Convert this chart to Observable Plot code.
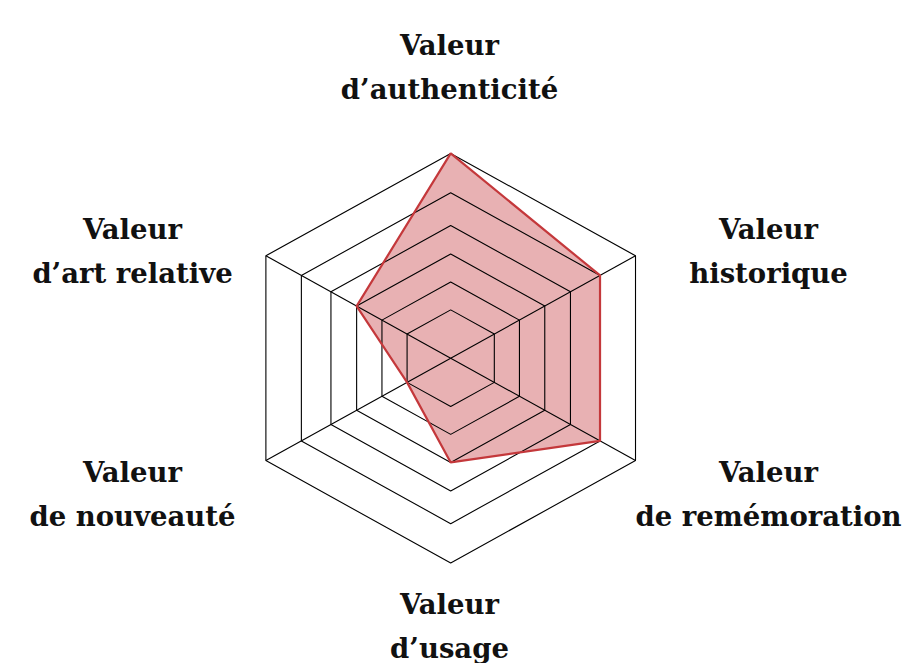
<!DOCTYPE html>
<html><head><meta charset="utf-8">
<script src="https://cdn.jsdelivr.net/npm/d3@7"></script>
<script src="https://cdn.jsdelivr.net/npm/@observablehq/plot@0.6"></script>
<style>body{margin:0;background:#fff}</style>
</head><body><div id="chart"></div>
<script>
// Axis labels (clockwise from the top)
const axisNames = [
  "Valeur\nd’authenticité",
  "Valeur\nhistorique",
  "Valeur\nde remémoration",
  "Valeur\nd’usage",
  "Valeur\nde nouveauté",
  "Valeur\nd’art relative"
];
// Grid rings (level index) and their radius as a fraction of the outer ring
const ringLevels = [1, 2, 3, 4, 5, 6];
const ringRadius = [0.236, 0.372, 0.509, 0.648, 0.808, 1.0];
// Score of each axis, expressed as a ring level
const scores = [6, 5, 5, 3, 1, 3];

const n = axisNames.length;
const angle = i => i * 2 * Math.PI / n;
const px = (r, i) => r * Math.sin(angle(i));
const py = (r, i) => r * Math.cos(angle(i));

const ringPts = ringLevels.flatMap((lv, k) =>
  axisNames.map((_, i) => ({ring: lv, x: px(ringRadius[k], i), y: py(ringRadius[k], i)})));
const dataPts = scores.map((s, i) => ({x: px(ringRadius[s - 1], i), y: py(ringRadius[s - 1], i)}));
// spokes only to the four side vertices
const spokes = axisNames.map((_, i) => i).filter(i => Math.abs(Math.sin(angle(i))) > 0.5)
  .map(i => ({x1: 0, y1: 0, x2: px(1, i), y2: py(1, i)}));

// frame geometry (pixels)
const cx = 450.2, cy = 357.7, rx = 213.4, ry = 204.8;
// label layout: baseline of first line (pixels), horizontal centre of side labels, line gap
const lineGap = 44.5;
const labelLines = axisNames.flatMap((t, i) => {
  const s = Math.sin(angle(i)), c = Math.cos(angle(i));
  const side = Math.abs(s) > 0.5;
  const xPix = side ? (s > 0 ? 768 : 132) : 449;
  const base = side ? (c > 0 ? 238 : 481) : (c > 0 ? 54 : 613);
  return t.split("\n").map((line, j) => ({
    text: line,
    x: (xPix - cx) / rx,
    y: (cy - (base + j * lineGap)) / ry
  }));
});

const chart = Plot.plot({
  width: 903,
  height: 663,
  margin: 0,
  x: {domain: [-1, 1], range: [cx - rx, cx + rx], axis: null},
  y: {domain: [-1, 1], range: [cy + ry, cy - ry], axis: null},
  marks: [
    Plot.line(dataPts, {x: "x", y: "y", curve: "linear-closed", fill: "#e8b1b3", stroke: "none"}),
    Plot.line(ringPts, {x: "x", y: "y", z: "ring", curve: "linear-closed", stroke: "#000", strokeWidth: 1.1, strokeLinejoin: "miter"}),
    Plot.link(spokes, {x1: "x1", y1: "y1", x2: "x2", y2: "y2", stroke: "#000", strokeWidth: 1.1}),
    Plot.line(dataPts, {x: "x", y: "y", curve: "linear-closed", stroke: "#c4383b", strokeWidth: 2.2, strokeLinejoin: "miter"}),
    Plot.text(labelLines, {
      x: "x", y: "y", text: "text",
      fontSize: 27.5, fontFamily: "DejaVu Serif", fontWeight: "bold",
      lineAnchor: "bottom", textAnchor: "middle", fill: "#111"
    })
  ]
});
document.getElementById("chart").append(chart);
</script>
</body></html>
